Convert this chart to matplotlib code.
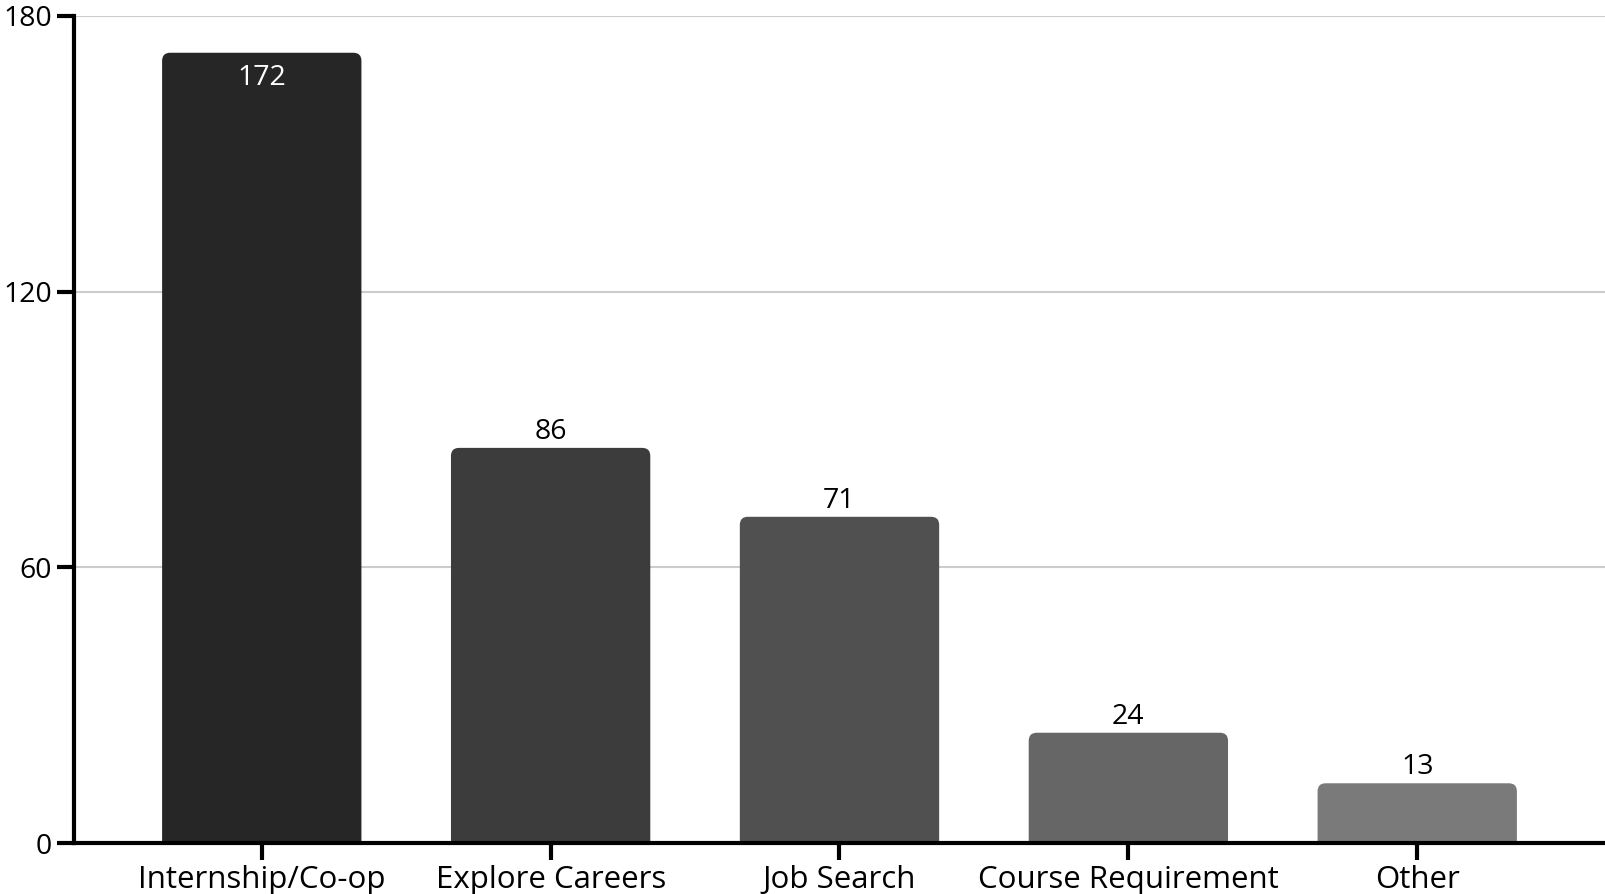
import matplotlib
matplotlib.use("Agg")
import matplotlib.pyplot as plt
from matplotlib.patches import FancyBboxPatch

categories = ["Internship/Co-op", "Explore Careers", "Job Search", "Course Requirement", "Other"]
values = [172, 86, 71, 24, 13]
colors = ["#262626", "#3c3c3c", "#505050", "#666666", "#7a7a7a"]
yticks = [0, 60, 120, 180]

plt.rcParams['font.family'] = ['Open Sans', 'DejaVu Sans']

W, H = 1605, 894
fig = plt.figure(figsize=(W/100, H/100), dpi=100)
left, right, top, bottom = 74, 1605, 16, 843
ax = fig.add_axes([left/W, 1-bottom/H, (right-left)/W, (bottom-top)/H])

xmin, xmax = -0.65, 4.65
ymin, ymax = 0, 180
ax.set_xlim(xmin, xmax)
ax.set_ylim(ymin, ymax)

FS = 20.5
FSX = 22.5
px_x = (xmax - xmin) / (right - left)
px_y = (ymax - ymin) / (bottom - top)
aspect = px_y / px_x
bw = 0.69
r = 8 * px_x
for i, (v, c) in enumerate(zip(values, colors)):
    p = FancyBboxPatch((i - bw/2, -5), bw, v + 5,
                       boxstyle=f"round,pad=0,rounding_size={r}",
                       mutation_aspect=aspect, facecolor=c, edgecolor='none',
                       zorder=3, clip_on=True)
    ax.add_patch(p)
    if v > 150:
        ax.text(i, v - 25*px_y, str(v), ha='center', va='center', color='white',
                fontsize=FS, zorder=4)
    else:
        ax.text(i, v + 16*px_y, str(v), ha='center', va='center', color='black',
                fontsize=FS, zorder=4)

ax.set_yticks(yticks)
ax.set_yticklabels([str(t) for t in yticks])
ax.set_xticks(range(len(categories)))
ax.set_xticklabels(categories)
ax.yaxis.grid(True, color='#cccccc', linewidth=1.5, zorder=0)
ax.set_axisbelow(True)
for s in ['top', 'right']:
    ax.spines[s].set_visible(False)
for s in ['left', 'bottom']:
    ax.spines[s].set_linewidth(3)
    ax.spines[s].set_color('black')
    ax.spines[s].set_zorder(5)
ax.tick_params(axis='both', length=12, width=3, colors='black')
ax.tick_params(axis='y', pad=4, labelsize=FS)
ax.tick_params(axis='x', pad=4, labelsize=FSX)

fig.savefig("out.png", dpi=100)
